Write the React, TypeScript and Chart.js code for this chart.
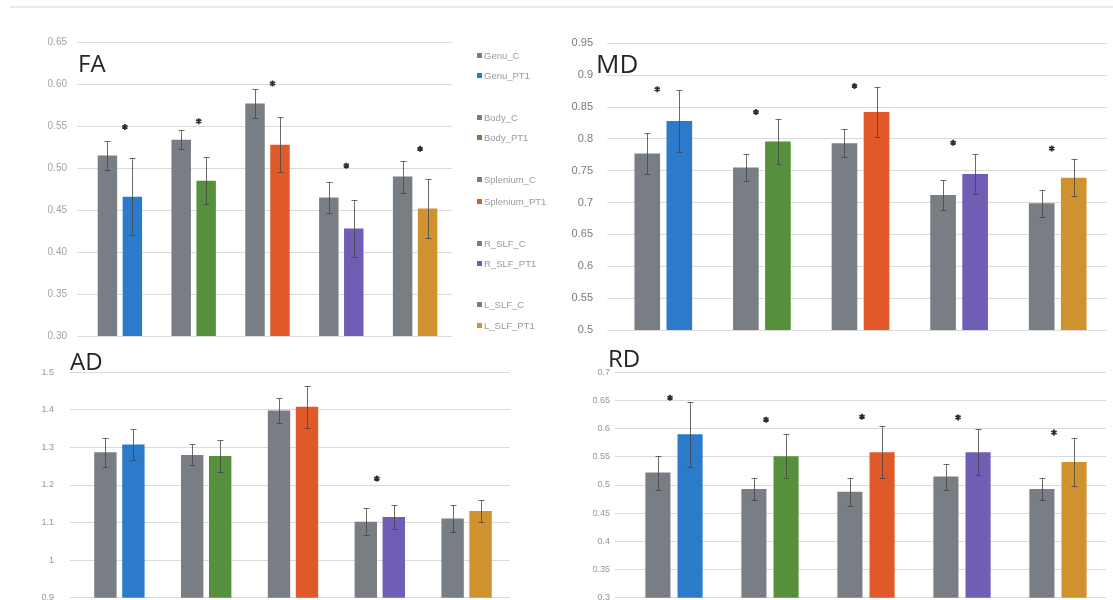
import React, { useEffect, useRef } from "react";
import { Chart, registerables } from "chart.js";

Chart.register(...registerables);

// ---------- data ----------
const regions = ["Genu", "Body", "Splenium", "R_SLF", "L_SLF"];
const legendLabels = [
  "Genu_C", "Genu_PT1",
  "Body_C", "Body_PT1",
  "Splenium_C", "Splenium_PT1",
  "R_SLF_C", "R_SLF_PT1",
  "L_SLF_C", "L_SLF_PT1",
];

const controlColor = "#797d84";
const pt1Colors = ["#2b7bca", "#56903d", "#df5a28", "#6f5db6", "#d0922f"];

const faControl = [0.515, 0.534, 0.577, 0.465, 0.49];
const faControlErr = [0.017, 0.011, 0.017, 0.019, 0.019];
const faPT1 = [0.466, 0.485, 0.528, 0.428, 0.452];
const faPT1Err = [0.046, 0.028, 0.033, 0.034, 0.035];
const faSig = [0.549, 0.556, 0.601, 0.503, 0.523];
const faTickLabels = ["0.30", "0.35", "0.40", "0.45", "0.50", "0.55", "0.60", "0.65"];

const mdControl = [0.777, 0.755, 0.793, 0.712, 0.699];
const mdControlErr = [0.032, 0.021, 0.022, 0.023, 0.021];
const mdPT1 = [0.828, 0.796, 0.842, 0.745, 0.739];
const mdPT1Err = [0.048, 0.035, 0.039, 0.031, 0.029];
const mdSig = [0.878, 0.842, 0.883, 0.794, 0.785];
const mdTickLabels = ["0.5", "0.55", "0.6", "0.65", "0.7", "0.75", "0.8", "0.85", "0.9", "0.95"];

const adControl = [1.287, 1.28, 1.398, 1.102, 1.111];
const adControlErr = [0.039, 0.028, 0.033, 0.036, 0.035];
const adPT1 = [1.308, 1.277, 1.408, 1.115, 1.131];
const adPT1Err = [0.042, 0.042, 0.055, 0.031, 0.029];
const adSig: (number | null)[] = [null, null, null, 1.217, null];
const adTickLabels = ["0.9", "1", "1.1", "1.2", "1.3", "1.4", "1.5"];

const rdControl = [0.522, 0.493, 0.488, 0.515, 0.493];
const rdControlErr = [0.03, 0.02, 0.025, 0.023, 0.02];
const rdPT1 = [0.59, 0.551, 0.558, 0.558, 0.541];
const rdPT1Err = [0.058, 0.039, 0.046, 0.041, 0.042];
const rdSig = [0.655, 0.616, 0.621, 0.62, 0.593];
const rdTickLabels = ["0.3", "0.35", "0.4", "0.45", "0.5", "0.55", "0.6", "0.65", "0.7"];

// ---------- panel ----------
type PanelProps = {
  canvasLeft: number;
  canvasRight: number;
  area: [number, number, number, number];
  control: number[];
  controlErr: number[];
  pt1: number[];
  pt1Err: number[];
  sig: (number | null)[];
  tickLabels: string[];
  tickLength: number;
  tickPadding: number;
  fontSize: number;
  tickColor: string;
  catPct: number;
  barPct: number;
  sigDx: number;
};

const VPAD = 28;

function Panel(p: PanelProps) {
  const ref = useRef<HTMLCanvasElement | null>(null);
  const [al, at, ar, ab] = p.area;
  const cl = p.canvasLeft;
  const cw = p.canvasRight - p.canvasLeft;
  const ct = Math.floor(at - VPAD);
  const ch = Math.ceil(ab + VPAD) - ct;

  useEffect(() => {
    const tickValues = p.tickLabels.map((s) => parseFloat(s));
    const errs = [p.controlErr, p.pt1Err];

    const overlay = {
      id: "overlay",
      afterDatasetsDraw(chart: any) {
        const { ctx } = chart;
        const x = chart.scales.x;
        const y = chart.scales.y;
        ctx.save();
        ctx.strokeStyle = "rgba(70,70,70,0.8)";
        ctx.lineWidth = 1;
        errs.forEach((arr, di) => {
          const meta = chart.getDatasetMeta(di);
          const vals = chart.data.datasets[di].data as number[];
          meta.data.forEach((el: any, i: number) => {
            const v = vals[i];
            const e = arr[i];
            const px = Math.round(el.x) + 0.5;
            const yt = Math.round(y.getPixelForValue(v + e)) + 0.5;
            const yb = Math.round(y.getPixelForValue(v - e)) + 0.5;
            ctx.beginPath();
            ctx.moveTo(px, yt);
            ctx.lineTo(px, yb);
            ctx.moveTo(px - 3, yt);
            ctx.lineTo(px + 3, yt);
            ctx.moveTo(px - 3, yb);
            ctx.lineTo(px + 3, yb);
            ctx.stroke();
          });
        });
        ctx.strokeStyle = "#2e2e2e";
        ctx.lineWidth = 1.8;
        p.sig.forEach((s, i) => {
          if (s == null) return;
          const cx = x.getPixelForValue(i) + p.sigDx;
          const cy = y.getPixelForValue(s);
          const r = 3;
          ctx.beginPath();
          for (let k = 0; k < 3; k++) {
            const a = Math.PI / 2 + (k * Math.PI) / 3;
            ctx.moveTo(cx + r * Math.cos(a), cy + r * Math.sin(a));
            ctx.lineTo(cx - r * Math.cos(a), cy - r * Math.sin(a));
          }
          ctx.stroke();
        });
        ctx.restore();
      },
    };

    const chart = new Chart(ref.current as HTMLCanvasElement, {
      type: "bar",
      data: {
        labels: regions,
        datasets: [
          {
            label: "C",
            data: p.control,
            backgroundColor: controlColor,
            categoryPercentage: p.catPct,
            barPercentage: p.barPct,
          },
          {
            label: "PT1",
            data: p.pt1,
            backgroundColor: pt1Colors,
            categoryPercentage: p.catPct,
            barPercentage: p.barPct,
          },
        ],
      },
      options: {
        responsive: false,
        animation: false,
        layout: {
          padding: {
            left: 0,
            top: at - ct,
            right: cl + cw - ar,
            bottom: ct + ch - ab,
          },
        },
        plugins: {
          legend: { display: false },
          tooltip: { enabled: false },
        },
        scales: {
          x: {
            display: false,
            offset: true,
            grid: { display: false },
          },
          y: {
            min: tickValues[0],
            max: tickValues[tickValues.length - 1],
            afterFit: (s: any) => {
              s.width = al - cl;
            },
            afterBuildTicks: (s: any) => {
              s.ticks = tickValues.map((v) => ({ value: v }));
            },
            ticks: {
              callback: (_v: any, i: number) => p.tickLabels[i],
              color: p.tickColor,
              font: { family: "Liberation Sans", size: p.fontSize },
              padding: p.tickPadding,
            },
            grid: {
              color: "#dadada",
              lineWidth: 1,
              drawTicks: true,
              tickLength: p.tickLength,
            },
            border: { display: false },
          },
        },
      } as any,
      plugins: [overlay],
    });
    return () => chart.destroy();
  }, []);

  return (
    <canvas
      ref={ref}
      width={cw}
      height={ch}
      style={{ position: "absolute", left: cl, top: ct, width: cw, height: ch }}
    />
  );
}

const legendY = [55, 75, 117, 137, 179, 201, 243, 263, 304, 325];

function Title({ text, left, top, size }: { text: string; left: number; top: number; size: number }) {
  return (
    <div
      style={{
        position: "absolute",
        left,
        top,
        fontFamily: "'Open Sans', sans-serif",
        fontSize: size,
        lineHeight: size + "px",
        color: "#262626",
        zIndex: 2,
      }}
    >
      {text}
    </div>
  );
}

export default function App() {
  return (
    <div
      style={{
        position: "absolute",
        left: 0,
        top: 0,
        width: 1113,
        height: 600,
        overflow: "hidden",
        background: "#ffffff",
      }}
    >
      <div
        style={{
          position: "absolute",
          left: 10,
          top: 6,
          width: 1103,
          height: 2,
          background: "#e9e9e9",
        }}
      />
      <Panel
        canvasLeft={0}
        canvasRight={470}
        area={[83, 42.3, 452, 336]}
        control={faControl}
        controlErr={faControlErr}
        pt1={faPT1}
        pt1Err={faPT1Err}
        sig={faSig}
        tickLabels={faTickLabels}
        tickLength={6}
        tickPadding={10}
        fontSize={10}
        tickColor="#a3a3a3"
        catPct={0.676}
        barPct={0.78}
        sigDx={5}
      />
      <Panel
        canvasLeft={540}
        canvasRight={1113}
        area={[614, 43.3, 1107, 330]}
        control={mdControl}
        controlErr={mdControlErr}
        pt1={mdPT1}
        pt1Err={mdPT1Err}
        sig={mdSig}
        tickLabels={mdTickLabels}
        tickLength={7}
        tickPadding={14}
        fontSize={11}
        tickColor="#7a7a7a"
        catPct={0.65}
        barPct={0.8}
        sigDx={-6}
      />
      <Panel
        canvasLeft={0}
        canvasRight={540}
        area={[76, 372.3, 510, 597.7]}
        control={adControl}
        controlErr={adControlErr}
        pt1={adPT1}
        pt1Err={adPT1Err}
        sig={adSig}
        tickLabels={adTickLabels}
        tickLength={6}
        tickPadding={16}
        fontSize={9}
        tickColor="#959595"
        catPct={0.645}
        barPct={0.8}
        sigDx={-3}
      />
      <Panel
        canvasLeft={540}
        canvasRight={1113}
        area={[626, 372.3, 1106, 597.7]}
        control={rdControl}
        controlErr={rdControlErr}
        pt1={rdPT1}
        pt1Err={rdPT1Err}
        sig={rdSig}
        tickLabels={rdTickLabels}
        tickLength={11}
        tickPadding={5}
        fontSize={9}
        tickColor="#959595"
        catPct={0.67}
        barPct={0.78}
        sigDx={-4}
      />
      <Title text="FA" left={78} top={51} size={24} />
      <Title text="MD" left={596} top={50} size={26} />
      <Title text="AD" left={70} top={349} size={24} />
      <Title text="RD" left={608} top={346} size={24} />
      {legendLabels.map((lab, i) => (
        <div
          key={lab}
          style={{
            position: "absolute",
            left: 477,
            top: legendY[i] - 6,
            height: 12,
            display: "flex",
            alignItems: "center",
            fontFamily: "'Liberation Sans', sans-serif",
            fontSize: 9.5,
            color: "#9a9a9a",
            whiteSpace: "nowrap",
            zIndex: 2,
          }}
        >
          <span
            style={{
              display: "inline-block",
              width: 5,
              height: 5,
              marginRight: 2,
              background: i % 2 === 0 ? controlColor : pt1Colors[Math.floor(i / 2)],
            }}
          />
          {lab}
        </div>
      ))}
    </div>
  );
}
